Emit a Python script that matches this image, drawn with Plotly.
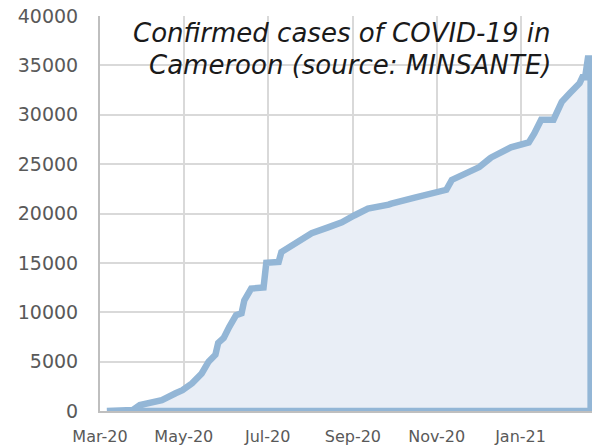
import plotly.graph_objects as go

dates = ["2020-03-06","2020-03-22","2020-03-25","2020-03-30","2020-04-05","2020-04-15","2020-04-25","2020-04-30",
         "2020-05-07","2020-05-14","2020-05-19","2020-05-24","2020-05-26","2020-05-30","2020-06-03","2020-06-08",
         "2020-06-12","2020-06-14","2020-06-19","2020-06-28","2020-06-30","2020-07-09","2020-07-11","2020-07-17",
         "2020-07-23","2020-07-26","2020-08-02","2020-08-14","2020-08-24","2020-09-02","2020-09-12","2020-09-27",
         "2020-09-29","2020-10-16","2020-10-28","2020-11-08","2020-11-12","2020-11-22","2020-12-02","2020-12-10",
         "2020-12-11","2020-12-25","2021-01-07","2021-01-11","2021-01-16","2021-01-25","2021-01-31","2021-02-06",
         "2021-02-13","2021-02-15","2021-02-17","2021-02-19","2021-02-21"]
cases = [1, 50, 100, 600, 800, 1100, 1800, 2100,
         2800, 3800, 5000, 5700, 6900, 7400, 8500, 9700,
         9900, 11200, 12400, 12500, 15000, 15100, 16100, 16600,
         17100, 17300, 18000, 18600, 19100, 19800, 20500, 20900,
         21000, 21600, 22100, 22400, 23400, 24100, 24700, 25600,
         25700, 26700, 27200, 28100, 29500, 29500, 31300, 32200,
         33200, 33800, 33800, 35700, 35700]

tick_dates = ["2020-03-01", "2020-05-01", "2020-07-01", "2020-09-01", "2020-11-01", "2021-01-01"]
tick_labels = ["Mar-20", "May-20", "Jul-20", "Sep-20", "Nov-20", "Jan-21"]
y_ticks = [0, 5000, 10000, 15000, 20000, 25000, 30000, 35000, 40000]
y_labels = [str(v) for v in y_ticks]

title_lines = ["Confirmed cases of COVID-19 in", "Cameroon (source: MINSANTE)"]

# area outline closes along the baseline like the original area series
xs = dates + [dates[-1], dates[0]]
ys = cases + [0, 0]

fig = go.Figure()
fig.add_trace(go.Scatter(
    x=xs, y=ys, mode="lines", fill="toself",
    fillcolor="#e9eef6",
    line=dict(color="#93b6d6", width=6.5),
    hoverinfo="skip", showlegend=False,
))

W, H = 592, 446
L, R, T, B = 100, 0, 16, 35

fig.update_layout(
    width=W, height=H,
    margin=dict(l=L, r=R, t=T, b=B, pad=0),
    paper_bgcolor="white", plot_bgcolor="white",
    font=dict(family="DejaVu Sans", color="#595959"),
    showlegend=False,
    xaxis=dict(
        type="date", range=["2020-03-01", "2021-02-22"],
        tickvals=tick_dates, ticktext=tick_labels,
        showgrid=True, gridcolor="#d9d9d9", gridwidth=2,
        showline=True, linecolor="#bfbfbf", linewidth=2,
        ticks="", tickfont=dict(size=16, color="#595959"),
        ticklabelstandoff=10, zeroline=False, automargin=False,
        ticklabeloverflow="allow",
    ),
    yaxis=dict(
        range=[0, 40000], tickvals=y_ticks, ticktext=y_labels,
        showgrid=True, gridcolor="#d9d9d9", gridwidth=2,
        showline=True, linecolor="#bfbfbf", linewidth=2,
        ticks="", tickfont=dict(size=19, color="#595959"),
        ticklabelstandoff=16, zeroline=False, automargin=False,
        ticklabeloverflow="allow",
    ),
)

pw = W - L - R
ph = H - T - B
fig.add_annotation(text=title_lines[0], xref="paper", yref="paper",
                   x=(342 - L) / pw, y=(411 - 33) / ph, xanchor="center", yanchor="middle",
                   showarrow=False, font=dict(family="DejaVu Sans", size=26, color="#1a1a1a", style="italic"))
fig.add_annotation(text=title_lines[1], xref="paper", yref="paper",
                   x=(350 - L) / pw, y=(411 - 65) / ph, xanchor="center", yanchor="middle",
                   showarrow=False, font=dict(family="DejaVu Sans", size=26, color="#1a1a1a", style="italic"))

fig.write_html("out.html", config={"displayModeBar": False},
               post_script="document.body.style.margin='0';document.body.style.overflow='hidden';")
